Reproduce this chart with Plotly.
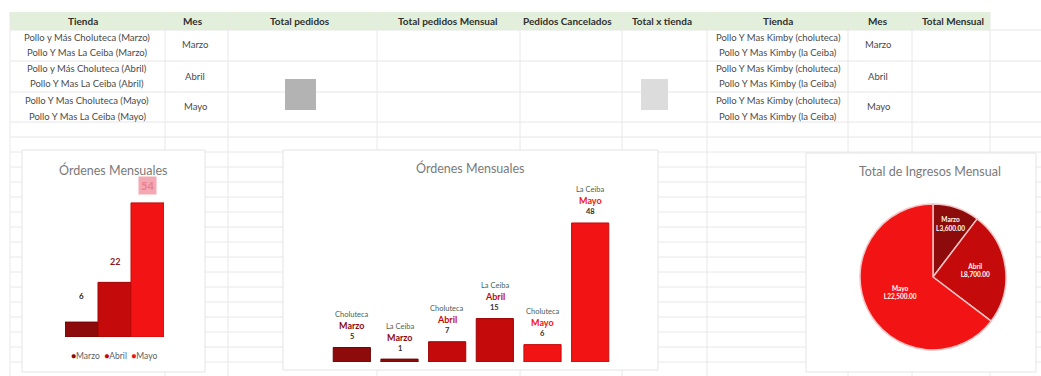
import plotly.graph_objects as go

W, H = 1041, 376
def X(px): return px / W
def Y(py): return 1 - py / H

FONT = "Lato"

# ---------------- data ----------------
meses = ["Marzo", "Abril", "Mayo"]
ordenes_mes = [6, 22, 54]

tiendas_bar = ["Choluteca", "La Ceiba", "Choluteca", "La Ceiba", "Choluteca", "La Ceiba"]
meses_bar = ["Marzo", "Marzo", "Abril", "Abril", "Mayo", "Mayo"]
ordenes_tienda = [5, 1, 7, 15, 6, 48]

ingresos_mes = [3600.00, 8700.00, 22500.00]

encabezados = ["Tienda", "Mes", "Total pedidos", "Total pedidos Mensual",
               "Pedidos Cancelados", "Total x tienda", "Tienda", "Mes", "Total Mensual"]
tiendas_tabla = ["Pollo y Más Choluteca (Marzo)", "Pollo Y Mas La Ceiba (Marzo)",
                 "Pollo y Más Choluteca (Abril)", "Pollo Y Mas La Ceiba (Abril)",
                 "Pollo Y Mas Choluteca (Mayo)", "Pollo Y Mas La Ceiba (Mayo)"]
tiendas_kimby = ["Pollo Y Mas Kimby (choluteca)", "Pollo Y Mas Kimby (la Ceiba)",
                 "Pollo Y Mas Kimby (choluteca)", "Pollo Y Mas Kimby (la Ceiba)",
                 "Pollo Y Mas Kimby (choluteca)", "Pollo Y Mas Kimby (la Ceiba)"]

colores_mes = {"Marzo": "#8E0B0B", "Abril": "#C40A0A", "Mayo": "#F21414"}
bordes_mes = {"Marzo": "#6E0505", "Abril": "#9E0505", "Mayo": "#C80A0A"}

# ---------------- layout helpers ----------------
shapes = []
annotations = []

def line(x0, y0, x1, y1, color="#e3e3e3", width=1):
    shapes.append(dict(type="line", xref="paper", yref="paper", x0=X(x0), y0=Y(y0),
                       x1=X(x1), y1=Y(y1), line=dict(color=color, width=width), layer="below"))

def rect(x0, y0, x1, y1, fill, border=None, bw=1):
    shapes.append(dict(type="rect", xref="paper", yref="paper", x0=X(x0), y0=Y(y1),
                       x1=X(x1), y1=Y(y0), fillcolor=fill,
                       line=dict(color=border or fill, width=bw if border else 0), layer="below"))

def text(x, y, t, size=8, color="#404040", bold=False, xanchor="center", family=FONT):
    annotations.append(dict(xref="paper", yref="paper", x=X(x), y=Y(y), text=("<b>%s</b>" % t) if bold else t,
                            showarrow=False, xanchor=xanchor, yanchor="middle",
                            font=dict(family=family, size=size, color=color)))

# spreadsheet background grid
rect(10, 12, 990, 30, "#E2EFDA")
for yy in [30, 61, 92, 122, 137]:
    line(10, yy, 1041, yy, "#e6e6e6")
yy = 152
while yy < H:
    line(10, yy, 1041, yy, "#e8e8e8")
    yy += 15
for xx in [10, 165, 228, 377, 520, 622, 707, 848, 912, 990]:
    line(xx, 12, xx, H, "#e8e8e8")

# redaction smudges in the table
rect(285, 79, 316, 110, "#B3B3B3")
rect(641, 79, 668, 110, "#DCDCDC")

# table header
header_x = [83, 193, 300, 448, 567, 662, 778, 878, 953]
for hx, h in zip(header_x, encabezados):
    text(hx, 21, h, size=10, color="#303030", bold=True)

row_y = [37, 52, 68, 84, 100, 116]
for ry, t in zip(row_y, tiendas_tabla):
    text(87, ry, t, size=9.5, color="#4a4a4a")
for ry, t in zip(row_y, tiendas_kimby):
    text(778, ry, t, size=9.5, color="#4a4a4a")
mes_y = [45, 76, 106]
for my, m in zip(mes_y, meses):
    text(195, my, m, size=9.5, color="#4a4a4a")
    text(878, my, m, size=9.5, color="#4a4a4a")

# chart cards
rect(22, 150, 205, 372, "white", "#e4e4e4")
rect(283, 150, 658, 370, "white", "#e4e4e4")
rect(806, 153, 1036, 372, "white", "#e4e4e4")

# titles
text(113, 170, "Órdenes Mensuales", size=12.5, color="#7a7a7a")
text(470, 168, "Órdenes Mensuales", size=12.5, color="#7a7a7a")
text(930, 172, "Total de Ingresos Mensual", size=12.5, color="#7a7a7a")

# legend for left chart (manual)
leg = "  ".join("<span style='color:%s'>●</span>%s" % (colores_mes[m], m) for m in meses)
text(114, 356, leg, size=8.5, color="#606060")

# ---------------- traces ----------------
fig = go.Figure()

# left chart: monthly orders, columns with no gap
fig.add_trace(go.Bar(
    x=list(range(len(meses))), y=ordenes_mes, width=1,
    marker=dict(color=[colores_mes[m] for m in meses],
                line=dict(color=[bordes_mes[m] for m in meses], width=1)),
    xaxis="x", yaxis="y", showlegend=False, hoverinfo="skip"))

# left chart labels (as in the reference, partly obscured)
lbl_colors = ["#202020", "#8B1A1A", "#E88090"]
lbl_bg = ["rgba(0,0,0,0)", "rgba(0,0,0,0)", "#F4A8B2"]
lbl_size = [8, 9, 11]
lbl_shift = [18, 12, 8]
for i, v in enumerate(ordenes_mes):
    annotations.append(dict(xref="x", yref="y", x=i, y=v, text="<b>%d</b>" % v, showarrow=False,
                            yanchor="bottom", yshift=lbl_shift[i],
                            font=dict(family=FONT, size=lbl_size[i], color=lbl_colors[i]),
                            bgcolor=lbl_bg[i], borderpad=2))

# middle chart: orders per store and month
fig.add_trace(go.Bar(
    x=list(range(len(ordenes_tienda))), y=ordenes_tienda, width=0.78,
    marker=dict(color=[colores_mes[m] for m in meses_bar],
                line=dict(color=[bordes_mes[m] for m in meses_bar], width=1)),
    xaxis="x2", yaxis="y2", showlegend=False, hoverinfo="skip"))

for i, (t, m, v) in enumerate(zip(tiendas_bar, meses_bar, ordenes_tienda)):
    annotations.append(dict(xref="x2", yref="y2", x=i, y=v, text="<b>%d</b>" % v, showarrow=False,
                            yanchor="middle", yshift=11, font=dict(family=FONT, size=7.5, color="#303030")))
    annotations.append(dict(xref="x2", yref="y2", x=i, y=v, text="<b>%s</b>" % m, showarrow=False,
                            yanchor="middle", yshift=22, font=dict(family=FONT, size=9, color=colores_mes[m])))
    annotations.append(dict(xref="x2", yref="y2", x=i, y=v, text=t, showarrow=False,
                            yanchor="middle", yshift=33, font=dict(family=FONT, size=7.5, color="#4A6356")))

# pie: monthly income
fig.add_trace(go.Pie(
    labels=meses, values=ingresos_mes, sort=False, direction="clockwise", rotation=0,
    marker=dict(colors=[colores_mes[m] for m in meses], line=dict(color="#F6C4C4", width=1.5)),
    texttemplate="<b>%{label}<br>L%{value:,.2f}</b>", textposition="inside",
    insidetextorientation="horizontal", textfont=dict(family=FONT, size=6.5, color="white"),
    domain=dict(x=[X(860), X(1006)], y=[Y(350), Y(204)]),
    showlegend=False, hoverinfo="skip"))

axis_off = dict(showgrid=False, zeroline=False, showticklabels=False, showline=False, ticks="")
fig.update_layout(
    width=W, height=H, margin=dict(l=0, r=0, t=0, b=0),
    paper_bgcolor="white", plot_bgcolor="rgba(0,0,0,0)",
    barmode="overlay",
    xaxis=dict(domain=[X(65), X(164)], range=[-0.5, 2.5], anchor="y", **axis_off),
    yaxis=dict(domain=[Y(337), Y(188)], range=[0, 60], anchor="x", **axis_off),
    xaxis2=dict(domain=[X(328), X(614)], range=[-0.5, 5.5], anchor="y2", **axis_off),
    yaxis2=dict(domain=[Y(362), Y(202.7)], range=[0, 55], anchor="x2", **axis_off),
    shapes=shapes, annotations=annotations,
    font=dict(family=FONT),
)

fig.write_html("out.html")
